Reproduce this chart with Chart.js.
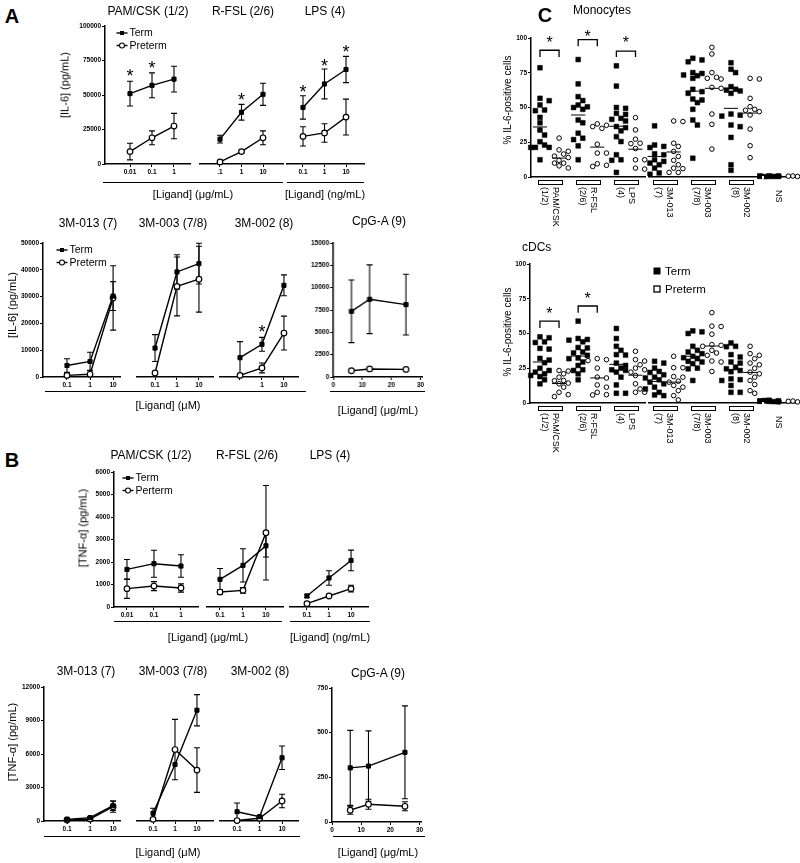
<!DOCTYPE html>
<html><head><meta charset="utf-8">
<script src="https://cdn.jsdelivr.net/npm/chart.js@4.4.0/dist/chart.umd.min.js"></script>
<style>
html,body{margin:0;padding:0;background:#fff}
body{width:800px;height:863px;position:relative;overflow:hidden;font-family:"Liberation Sans",Arial,sans-serif;color:#000}
.t{position:absolute;white-space:nowrap;line-height:1}
canvas{position:absolute}
.ul{position:absolute;height:0;border-top:1.3px solid #000}
</style></head><body>
<script>
const F = '"Liberation Sans", Arial, sans-serif';

// ================= Panel A : IL-6 (pg/mL) =================
const A_pam_conc = [0.01, 0.1, 1];
const A_pam_term = [51000, 57000, 61500];
const A_pam_termErr = [9000, 9000, 9300];
const A_pam_pre = [9000, 19000, 27500];
const A_pam_preErr = [6000, 5000, 9200];

const A_rfsl_conc = [0.1, 1, 10];
const A_rfsl_term = [18000, 37500, 50500];
const A_rfsl_termErr = [2800, 5700, 8000];
const A_rfsl_pre = [1500, 9000, 19000];
const A_rfsl_preErr = [500, 1000, 5000];

const A_lps_conc = [0.1, 1, 10];
const A_lps_term = [41000, 58000, 68500];
const A_lps_termErr = [8500, 10800, 9500];
const A_lps_pre = [20000, 22500, 34000];
const A_lps_preErr = [7000, 6700, 13000];

const A_m013_conc = [0.1, 1, 10];
const A_m013_term = [4300, 5800, 30200];
const A_m013_termErr = [2500, 3450, 5400];
const A_m013_pre = [600, 1000, 29500];
const A_m013_preErr = [1000, 1500, 12000];

const A_m003_conc = [0.1, 1, 10];
const A_m003_term = [10800, 39200, 42300];
const A_m003_termErr = [5000, 6400, 7600];
const A_m003_pre = [1500, 33800, 36500];
const A_m003_preErr = [0, 11000, 12300];

const A_m002_conc = [0.1, 1, 10];
const A_m002_term = [7200, 12200, 34200];
const A_m002_termErr = [6000, 2600, 3900];
const A_m002_pre = [600, 3400, 16400];
const A_m002_preErr = [500, 1850, 6300];

const A_cpg_conc = [6.25, 12.5, 25];
const A_cpg_term = [7350, 8700, 8100];
const A_cpg_termErr = [3500, 3850, 3400];
const A_cpg_pre = [700, 900, 850];
const A_cpg_preErr = [100, 120, 100];

// ================= Panel B : TNF-alpha (pg/mL) =================
const B_pam_conc = [0.01, 0.1, 1];
const B_pam_term = [1670, 1925, 1820];
const B_pam_termErr = [440, 600, 500];
const B_pam_pre = [815, 930, 845];
const B_pam_preErr = [430, 200, 185];

const B_rfsl_conc = [0.1, 1, 10];
const B_rfsl_term = [1230, 1850, 2720];
const B_rfsl_termErr = [480, 740, 500];
const B_rfsl_pre = [665, 740, 3300];
const B_rfsl_preErr = [100, 130, 2100];

const B_lps_conc = [0.1, 1, 10];
const B_lps_term = [490, 1290, 2070];
const B_lps_termErr = [80, 320, 460];
const B_lps_pre = [150, 490, 815];
const B_lps_preErr = [50, 30, 150];

const B_m013_conc = [0.1, 1, 10];
const B_m013_term = [150, 300, 1370];
const B_m013_termErr = [80, 100, 420];
const B_m013_pre = [90, 180, 1280];
const B_m013_preErr = [80, 100, 500];

const B_m003_conc = [0.1, 1, 10];
const B_m003_term = [690, 5060, 9920];
const B_m003_termErr = [450, 0, 1400];
const B_m003_pre = [150, 6400, 4560];
const B_m003_preErr = [0, 2700, 2000];

const B_m002_conc = [0.1, 1, 10];
const B_m002_term = [830, 390, 5660];
const B_m002_termErr = [780, 100, 1050];
const B_m002_pre = [40, 240, 1790];
const B_m002_preErr = [0, 100, 600];

const B_cpg_conc = [6.25, 12.5, 25];
const B_cpg_term = [303, 313, 390];
const B_cpg_termErr = [210, 197, 260];
const B_cpg_pre = [66, 99, 88];
const B_cpg_preErr = [23, 28, 25];

// ================= Panel C : % IL-6-positive cells =================
const C_groups = [['PAM/CSK', '(1/2)'], ['R-FSL', '(2/6)'], ['LPS', '(4)'], ['3M-013', '(7)'], ['3M-003', '(7/8)'], ['3M-002', '(8)'], ['NS']];
const C_axisBreaks = [5.6, 11.68];

const mono_term = [
  [78.6, 56.6, 54.9, 51.8, 48.2, 47.7, 42.9, 39, 33.8, 30.2, 25.4, 23, 21.3, 21.3, 21.3, 12.4],
  [84.5, 67, 57.8, 55, 51.8, 50.5, 50, 48.7, 41, 39, 31.5, 27.9, 26.9, 22.4, 12.4],
  [80, 65.4, 50, 49.4, 45.8, 45, 42.2, 41.5, 40.3, 36.3, 35.5, 33.2, 29, 25.5, 16, 12.4, 12, 3.3],
  [36.8, 23, 22, 21.2, 16.7, 16, 12.4, 11.2, 10, 8.8, 6.4, 2.9, 2],
  [85.4, 84.2, 82.9, 75.1, 74.5, 73.4, 72.9, 71, 63.1, 61.4, 60.2, 56.1, 55.4, 53.5, 48.7, 41, 37.4, 13.5],
  [82.2, 77.5, 75.1, 65, 63.1, 62.5, 61.9, 60.2, 45.3, 44.5, 43.8, 37.4, 36.2, 28.5, 8.8, 4.8],
  [0.8, 0.6, 0.5, 0.4, 0.3, 0.5, 0.7, 0.4]
];
const mono_pre = [
  [28, 19.5, 18.5, 16.5, 15, 14, 12, 10, 10, 8, 6.5],
  [38.2, 37.2, 36.3, 35, 23.6, 17.2, 17.2, 9.5, 8.4, 7.6],
  [42.7, 33.9, 27.2, 24.3, 24, 20.5, 12.4, 12.4, 6.4, 5.7],
  [40.3, 39.9, 24.3, 22, 18.4, 14.8, 12, 8.8, 6.4, 6, 3.3, 3.3],
  [93.3, 88.5, 75.1, 71.7, 71, 70.5, 64.5, 63.8, 45.3, 37.9, 20.1],
  [71, 70.5, 56.6, 50.6, 48.7, 48, 47, 44.6, 34.5, 22.5, 13.9],
  [0.6, 0.4, 0.5, 0.7]
];
const mono_termMean = [36, 44.6, 36.5, 14.8, 61.8, 49.4, null];
const mono_preMean = [13.6, 21.5, 20, 18, 63.8, 46, null];

const cdc_term = [
  [47.6, 46.9, 44, 43.5, 39.3, 38.8, 32.1, 30.9, 29, 25, 23.4, 22.2, 21, 19.8, 19, 16.7, 13.8],
  [58.9, 46.4, 45.7, 45.2, 44, 39.9, 39.6, 36.7, 36, 34.3, 32.4, 31.9, 29.5, 27, 23.9, 23.4, 21, 16.7],
  [53.6, 46.4, 40.8, 37.9, 34.8, 34.5, 28.7, 27, 25.1, 23.9, 23.5, 22.2, 18.6, 13, 7, 7],
  [30, 28.7, 25.1, 22.7, 22, 20.3, 18.6, 18, 16.7, 15, 13.8, 11.4, 10.1, 7.7, 5.8, 5.3],
  [51.9, 51.2, 50, 40.8, 37.9, 36.7, 35.5, 33.6, 32.6, 31.9, 30, 29.5, 28.3, 25.1, 24.6, 16.2],
  [43.2, 40.8, 40.5, 34.8, 33.1, 29.5, 28.7, 25.8, 24.6, 23.4, 22.5, 17.4, 16.8, 16.2, 12.6, 7.7, 7.7],
  [2, 1.6, 1.3, 1, 1.8, 1.2, 0.9, 1.5]
];
const cdc_pre = [
  [23.4, 23, 21, 18.6, 16.2, 16, 14.3, 13.8, 11.4, 7.7, 6, 4.6],
  [31.9, 31.2, 30.5, 25.1, 18.6, 18, 13, 11.4, 7.7, 6, 5.8],
  [37.2, 31.2, 30.2, 27.5, 25.1, 23.9, 22.2, 19.8, 13.8, 10.1, 7.7, 7.7],
  [33.6, 25.4, 25.4, 19, 18.6, 15.7, 15, 12.6, 11.4, 8.9, 5.3, 2.2],
  [65, 55.3, 55, 49.5, 42, 41.5, 40.8, 37.9, 36, 34.3, 30.2, 29.5, 22.7],
  [40.8, 35.5, 34.3, 31.9, 28.7, 27.5, 25, 22.2, 21, 18.6, 16.2, 13.3, 8.9, 7],
  [1.2, 0.8, 1, 1.4]
];
const cdc_termMean = [29.5, 33.8, 27.8, 15.5, 33.6, 23.9, null];
const cdc_preMean = [14, 18, 20, 15, 41, 22, null];

// significance brackets (group, bracket top, leg end, asterisk) in % units
const mono_sig = [{g: 0, top: 91.2, leg: 86.4, star: 99.6}, {g: 1, top: 98.9, leg: 94, star: 104.3}, {g: 2, top: 90.5, leg: 86.4, star: 99.6}];
const cdc_sig = [{g: 0, top: 58.9, leg: 54, star: 67.6}, {g: 1, top: 69.8, leg: 65, star: 78.3}];

// ================= helpers =================
function txt(s, x, y, size, opt) {
  opt = opt || {};
  const d = document.createElement('div');
  d.className = 't'; d.textContent = s;
  d.style.fontSize = size + 'px';
  if (opt.bold) d.style.fontWeight = 'bold';
  d.style.left = x + 'px'; d.style.top = y + 'px';
  let tr = (opt.anchor === 'l') ? 'translate(0,-50%)' : 'translate(-50%,-50%)';
  if (opt.rot) tr += ' rotate(' + opt.rot + 'deg)';
  d.style.transform = tr;
  document.body.appendChild(d);
}
function uline(y, x1, x2) {
  const d = document.createElement('div');
  d.className = 'ul';
  d.style.left = x1 + 'px'; d.style.top = y + 'px'; d.style.width = (x2 - x1) + 'px';
  document.body.appendChild(d);
}
function mkCanvas(l, t, w, h) {
  const c = document.createElement('canvas');
  c.width = w; c.height = h;
  c.style.left = l + 'px'; c.style.top = t + 'px';
  c.style.width = w + 'px'; c.style.height = h + 'px';
  document.body.appendChild(c);
  return c;
}
const tickFont = {family: F, size: 6.5, weight: 'bold'};
function axisLook() {
  return {
    grid: {display: true, drawOnChartArea: false, drawTicks: true, tickLength: 3, color: '#000', lineWidth: 1},
    border: {display: true, color: '#000', width: 1.5}
  };
}
const TERM_STYLE = {pointStyle: 'rect', pointRadius: 2.9, pointBackgroundColor: '#000', pointBorderColor: '#000', pointBorderWidth: 1};
const PRE_STYLE = {pointStyle: 'circle', pointRadius: 2.8, pointBackgroundColor: '#fff', pointBorderColor: '#000', pointBorderWidth: 1.2};

function errBarPlugin() {
  return {id: 'errbars', beforeDatasetsDraw(chart) {
    const ctx = chart.ctx, xs = chart.scales.x, ys = chart.scales.y;
    ctx.save(); ctx.strokeStyle = '#000'; ctx.lineWidth = 1.1;
    chart.data.datasets.forEach(ds => {
      if (!ds.err) return;
      ds.data.forEach((p, i) => {
        const e = ds.err[i]; if (!e) return;
        const px = xs.getPixelForValue(p.x);
        const top = ys.getPixelForValue(p.y + e);
        const lowV = Math.max(p.y - e, ys.min);
        const bot = ys.getPixelForValue(lowV);
        ctx.beginPath();
        ctx.moveTo(px, top); ctx.lineTo(px, bot);
        ctx.moveTo(px - 3, top); ctx.lineTo(px + 3, top);
        if (p.y - e > ys.min) { ctx.moveTo(px - 3, bot); ctx.lineTo(px + 3, bot); }
        ctx.stroke();
      });
    });
    ctx.restore();
  }};
}
function starPlugin(stars) {
  return {id: 'stars', afterDatasetsDraw(chart) {
    const ctx = chart.ctx, xs = chart.scales.x, ys = chart.scales.y, size = 18;
    ctx.save(); ctx.fillStyle = '#000'; ctx.font = size + 'px ' + F;
    ctx.textAlign = 'center'; ctx.textBaseline = 'alphabetic';
    stars.forEach(s => ctx.fillText('*', xs.getPixelForValue(s.x), ys.getPixelForValue(s.y) + size * 0.6));
    ctx.restore();
  }};
}
function legendPlugin(pos) {
  return {id: 'mlegend', afterDraw(chart) {
    if (!pos) return;
    const ctx = chart.ctx;
    ctx.save(); ctx.font = '10.5px ' + F; ctx.textBaseline = 'middle';
    chart.data.datasets.forEach((ds, i) => {
      const x = pos[0], y = pos[1] + i * 12.5;
      ctx.strokeStyle = '#000'; ctx.fillStyle = '#000'; ctx.lineWidth = 1.4;
      ctx.beginPath(); ctx.moveTo(x, y); ctx.lineTo(x + 11, y); ctx.stroke();
      if (ds.pointStyle === 'rect') { ctx.fillRect(x + 3.5, y - 2, 4, 4); }
      else { ctx.beginPath(); ctx.arc(x + 5.5, y, 2.5, 0, 2 * Math.PI); ctx.fillStyle = '#fff'; ctx.fill(); ctx.lineWidth = 1.1; ctx.stroke(); ctx.fillStyle = '#000'; }
      ctx.fillText(ds.label, x + 13, y + 0.5);
    });
    ctx.restore();
  }};
}

function linePanel(o) {
  const [l, t, r, b] = o.plot;
  const YW = o.yTicks ? 36 : 0, PL = o.yTicks ? 2 : 12, PR = 16, PT = 16, XH = 13, PB = 2;
  const cl = l - PL - YW, ct = t - PT, cw = r - l + PL + YW + PR, ch = b - t + PT + XH + PB;
  const cv = mkCanvas(cl, ct, cw, ch);
  const datasets = o.series.map(s => Object.assign({
    label: s.label, data: s.x.map((x, i) => ({x: x, y: s.y[i]})), err: s.err,
    showLine: true, borderColor: '#000', borderWidth: 1.4, fill: false, tension: 0, clip: false
  }, s.kind === 'term' ? TERM_STYLE : PRE_STYLE));
  const xAxis = Object.assign({
    type: o.xType, min: o.xMin, max: o.xMax, position: 'bottom', bounds: 'data',
    afterBuildTicks: sc => { sc.ticks = o.xTicks.map(v => ({value: v})); },
    afterFit: sc => { sc.height = XH; },
    ticks: {font: tickFont, color: '#000', padding: 1, maxRotation: 0, autoSkip: false, callback: (v, i) => o.xLabels[i]}
  }, axisLook());
  const yAxis = o.yTicks ? Object.assign({
    type: 'linear', min: o.yMin, max: o.yMax, position: 'left', bounds: 'data',
    afterBuildTicks: sc => { sc.ticks = o.yTicks.map(v => ({value: v})); },
    afterFit: sc => { sc.width = YW; },
    ticks: {font: tickFont, color: '#000', padding: 1, autoSkip: false, callback: (v, i) => String(o.yTicks[i])}
  }, axisLook()) : {display: false, min: o.yMin, max: o.yMax};
  new Chart(cv, {
    type: 'scatter',
    data: {datasets: datasets},
    options: {
      responsive: false, animation: false, devicePixelRatio: 1, events: [],
      layout: {padding: {left: PL, right: PR, top: PT, bottom: PB}},
      plugins: {legend: {display: false}, tooltip: {enabled: false}},
      scales: {x: xAxis, y: yAxis}
    },
    plugins: [errBarPlugin(), starPlugin(o.stars || []), legendPlugin(o.legend ? [o.legend[0] - cl, o.legend[1] - ct] : null)]
  });
}

function swarm(vals, yppu) {
  const D = 5.2, step = 4.6, placed = [];
  const cands = [0, step, -step, 2 * step, -2 * step];
  return vals.map(v => {
    let best = 0, bestCost = Infinity;
    for (const c of cands) {
      let cost = 0;
      for (const p of placed) {
        const d = Math.hypot(c - p.dx, (v - p.v) * yppu);
        if (d < D) cost += D - d;
      }
      if (cost < 1e-6) { best = c; bestCost = 0; break; }
      if (cost < bestCost) { bestCost = cost; best = c; }
    }
    placed.push({dx: best, v: v});
    return best;
  });
}

function dotPanel(o) {
  const [l, t, r, b] = o.plot;
  const YW = 24, PL = 2, PR = 6, PT = 16, XH = 1, PB = 62;
  const cl = l - PL - YW, ct = t - PT, cw = r - l + PL + YW + PR, ch = b - t + PT + XH + PB;
  const cv = mkCanvas(cl, ct, cw, ch);
  const xppu = (r - l) / (o.xMax - o.xMin), yppu = (b - t) / 100;
  const termPts = [], prePts = [];
  o.term.forEach((vals, g) => { const off = swarm(vals, yppu); vals.forEach((v, i) => termPts.push({x: 2 * g + off[i] / xppu, y: v})); });
  o.pre.forEach((vals, g) => { const off = swarm(vals, yppu); vals.forEach((v, i) => prePts.push({x: 2 * g + 1 + off[i] / xppu, y: v})); });
  const legendPos = o.legend ? [o.legend[0] - cl, o.legend[1] - ct] : null;
  const axisGaps = {id: 'gaps', afterDraw(chart) {
    const ctx = chart.ctx, xs = chart.scales.x, ys = chart.scales.y;
    const y0 = ys.getPixelForValue(0);
    C_axisBreaks.forEach(k => { ctx.clearRect(xs.getPixelForValue(k) - 1.2, y0 - 1.5, 2.4, 3); });
  }};
  const decor = {id: 'decor', afterDatasetsDraw(chart) {
    const ctx = chart.ctx, xs = chart.scales.x, ys = chart.scales.y;
    ctx.save(); ctx.strokeStyle = '#000'; ctx.fillStyle = '#000';
    ctx.lineWidth = 1;
    const drawMean = (m, k) => {
      if (m == null) return;
      const y = ys.getPixelForValue(m);
      ctx.beginPath(); ctx.moveTo(xs.getPixelForValue(k - 0.37), y); ctx.lineTo(xs.getPixelForValue(k + 0.37), y); ctx.stroke();
    };
    o.termMean.forEach((m, g) => drawMean(m, 2 * g));
    o.preMean.forEach((m, g) => drawMean(m, 2 * g + 1));
    ctx.lineWidth = 1.3;
    o.sig.forEach(s => {
      const x1 = xs.getPixelForValue(2 * s.g), x2 = xs.getPixelForValue(2 * s.g + 1);
      const yt = ys.getPixelForValue(s.top), yl = ys.getPixelForValue(s.leg);
      ctx.beginPath(); ctx.moveTo(x1, yl); ctx.lineTo(x1, yt); ctx.lineTo(x2, yt); ctx.lineTo(x2, yl); ctx.stroke();
      ctx.font = '16px ' + F; ctx.textAlign = 'center'; ctx.textBaseline = 'alphabetic';
      ctx.fillText('*', (x1 + x2) / 2, ys.getPixelForValue(s.star) + 16 * 0.6);
    });
    const y0 = ys.getPixelForValue(0);
    C_groups.forEach((lines, g) => {
      const xt = xs.getPixelForValue(2 * g), xp = xs.getPixelForValue(2 * g + 1), xc = (xt + xp) / 2;
      if (lines.length > 1) {
        const xa = xs.getPixelForValue(2 * g - 0.1), xb = xs.getPixelForValue(2 * g + 1.15);
        ctx.lineWidth = 1; ctx.strokeRect(Math.round(xa) + 0.5, Math.round(y0 + 2.5) + 0.5, Math.round(xb - xa), 4);
      }
      ctx.font = '9px ' + F; ctx.textAlign = 'left'; ctx.textBaseline = 'middle';
      lines.forEach((s, li) => {
        const dx = lines.length === 1 ? 0 : (li === 0 ? 5.5 : -5.5);
        ctx.save(); ctx.translate(xc + dx, y0 + (lines.length === 1 ? 13 : 10)); ctx.rotate(Math.PI / 2); ctx.fillText(s, 0, 0); ctx.restore();
      });
    });
    if (legendPos) {
      ctx.font = '11.5px ' + F; ctx.textAlign = 'left'; ctx.textBaseline = 'middle';
      ctx.fillRect(legendPos[0] - 3.5, legendPos[1] - 3.5, 7, 7);
      ctx.fillText('Term', legendPos[0] + 8, legendPos[1] + 0.5);
      ctx.lineWidth = 1.3; ctx.strokeRect(legendPos[0] - 3, legendPos[1] + 18 - 3, 6, 6);
      ctx.fillText('Preterm', legendPos[0] + 8, legendPos[1] + 18.5);
    }
    ctx.restore();
  }};
  new Chart(cv, {
    type: 'scatter',
    data: {datasets: [
      Object.assign({label: 'Term', data: termPts, clip: false}, {pointStyle: 'rect', pointRadius: 3.4, pointBackgroundColor: '#000', pointBorderColor: '#000', pointBorderWidth: 0.5}),
      Object.assign({label: 'Preterm', data: prePts, clip: false}, {pointStyle: 'circle', pointRadius: 2.3, pointBackgroundColor: '#fff', pointBorderColor: '#000', pointBorderWidth: 1})
    ]},
    options: {
      responsive: false, animation: false, devicePixelRatio: 1, events: [],
      layout: {padding: {left: PL, right: PR, top: PT, bottom: PB}},
      plugins: {legend: {display: false}, tooltip: {enabled: false}},
      scales: {
        x: {type: 'linear', min: o.xMin, max: o.xMax, position: 'bottom', bounds: 'data',
            ticks: {display: false}, grid: {display: false, drawTicks: false},
            border: {display: true, color: '#000', width: 1.5},
            afterFit: sc => { sc.height = XH; }},
        y: Object.assign({type: 'linear', min: 0, max: 100, position: 'left', bounds: 'data',
            afterBuildTicks: sc => { sc.ticks = [0, 25, 50, 75, 100].map(v => ({value: v})); },
            afterFit: sc => { sc.width = YW; },
            ticks: {font: tickFont, color: '#000', padding: 1, callback: v => String(v)}}, axisLook())
      }
    },
    plugins: [axisGaps, decor]
  });
}

// ================= build: Panel A =================
const yA1 = [0, 25000, 50000, 75000, 100000];
const yA2 = [0, 10000, 20000, 30000, 40000, 50000];
const yA3 = [0, 2500, 5000, 7500, 10000, 12500, 15000];
const yB1 = [0, 1000, 2000, 3000, 4000, 5000, 6000];
const yB2 = [0, 3000, 6000, 9000, 12000];
const yB3 = [0, 250, 500, 750];

function ser(x, term, termErr, pre, preErr, preLabel) {
  return [{label: 'Term', kind: 'term', x: x, y: term, err: termErr},
          {label: preLabel || 'Preterm', kind: 'pre', x: x, y: pre, err: preErr}];
}

linePanel({plot: [105, 26, 190, 164], xType: 'logarithmic', xMin: 0.00073, xMax: 5.34, xTicks: [0.01, 0.1, 1], xLabels: ['0.01', '0.1', '1'],
  yMin: 0, yMax: 100000, yTicks: yA1, series: ser(A_pam_conc, A_pam_term, A_pam_termErr, A_pam_pre, A_pam_preErr),
  legend: [116.5, 33], stars: [{x: 0.01, y: 67400}, {x: 0.1, y: 73000}]});
linePanel({plot: [200, 26, 283, 164], xType: 'logarithmic', xMin: 0.01175, xMax: 85.1, xTicks: [0.1, 1, 10], xLabels: ['.1', '1', '10'],
  yMin: 0, yMax: 100000, series: ser(A_rfsl_conc, A_rfsl_term, A_rfsl_termErr, A_rfsl_pre, A_rfsl_preErr), stars: [{x: 1, y: 50000}]});
linePanel({plot: [287, 26, 364, 164], xType: 'logarithmic', xMin: 0.01803, xMax: 68.7, xTicks: [0.1, 1, 10], xLabels: ['0.1', '1', '10'],
  yMin: 0, yMax: 100000, series: ser(A_lps_conc, A_lps_term, A_lps_termErr, A_lps_pre, A_lps_preErr),
  stars: [{x: 0.1, y: 55600}, {x: 1, y: 74600}, {x: 10, y: 84500}]});

linePanel({plot: [43, 243, 120, 377], xType: 'logarithmic', xMin: 0.00912, xMax: 19.95, xTicks: [0.1, 1, 10], xLabels: ['0.1', '1', '10'],
  yMin: 0, yMax: 50000, yTicks: yA2, series: ser(A_m013_conc, A_m013_term, A_m013_termErr, A_m013_pre, A_m013_preErr), legend: [56.5, 250]});
linePanel({plot: [137, 243, 213, 377], xType: 'logarithmic', xMin: 0.01514, xMax: 43.6, xTicks: [0.1, 1, 10], xLabels: ['0.1', '1', '10'],
  yMin: 0, yMax: 50000, series: ser(A_m003_conc, A_m003_term, A_m003_termErr, A_m003_pre, A_m003_preErr)});
linePanel({plot: [220, 243, 298, 377], xType: 'logarithmic', xMin: 0.0123, xMax: 43.6, xTicks: [0.1, 1, 10], xLabels: ['', '1', '10'],
  yMin: 0, yMax: 50000, series: ser(A_m002_conc, A_m002_term, A_m002_termErr, A_m002_pre, A_m002_preErr), stars: [{x: 1, y: 18700}]});
linePanel({plot: [333, 243, 421.5, 377], xType: 'linear', xMin: 0, xMax: 30.5, xTicks: [0, 10, 20, 30], xLabels: ['0', '10', '20', '30'],
  yMin: 0, yMax: 15000, yTicks: yA3, series: ser(A_cpg_conc, A_cpg_term, A_cpg_termErr, A_cpg_pre, A_cpg_preErr)});

// ================= build: Panel B =================
linePanel({plot: [114, 472, 198, 607], xType: 'logarithmic', xMin: 0.00331, xMax: 4.27, xTicks: [0.01, 0.1, 1], xLabels: ['0.01', '0.1', '1'],
  yMin: 0, yMax: 6000, yTicks: yB1, series: ser(B_pam_conc, B_pam_term, B_pam_termErr, B_pam_pre, B_pam_preErr, 'Perterm'), legend: [122.5, 478]});
linePanel({plot: [207, 472, 283, 607], xType: 'logarithmic', xMin: 0.0272, xMax: 55, xTicks: [0.1, 1, 10], xLabels: ['0.1', '1', '10'],
  yMin: 0, yMax: 6000, series: ser(B_rfsl_conc, B_rfsl_term, B_rfsl_termErr, B_rfsl_pre, B_rfsl_preErr)});
linePanel({plot: [290, 472, 368, 607], xType: 'logarithmic', xMin: 0.017, xMax: 58.9, xTicks: [0.1, 1, 10], xLabels: ['0.1', '1', '10'],
  yMin: 0, yMax: 6000, series: ser(B_lps_conc, B_lps_term, B_lps_termErr, B_lps_pre, B_lps_preErr)});

linePanel({plot: [44, 687, 120, 821], xType: 'logarithmic', xMin: 0.01, xMax: 19.95, xTicks: [0.1, 1, 10], xLabels: ['0.1', '1', '10'],
  yMin: 0, yMax: 12000, yTicks: yB2, series: ser(B_m013_conc, B_m013_term, B_m013_termErr, B_m013_pre, B_m013_preErr)});
linePanel({plot: [137, 687, 213, 821], xType: 'logarithmic', xMin: 0.0186, xMax: 53.7, xTicks: [0.1, 1, 10], xLabels: ['0.1', '1', '10'],
  yMin: 0, yMax: 12000, series: ser(B_m003_conc, B_m003_term, B_m003_termErr, B_m003_pre, B_m003_preErr)});
linePanel({plot: [220, 687, 298, 821], xType: 'logarithmic', xMin: 0.0174, xMax: 51.3, xTicks: [0.1, 1, 10], xLabels: ['0.1', '1', '10'],
  yMin: 0, yMax: 12000, series: ser(B_m002_conc, B_m002_term, B_m002_termErr, B_m002_pre, B_m002_preErr)});
linePanel({plot: [332, 688, 421, 822], xType: 'linear', xMin: 0, xMax: 30.5, xTicks: [0, 10, 20, 30], xLabels: ['0', '10', '20', '30'],
  yMin: 0, yMax: 750, yTicks: yB3, series: ser(B_cpg_conc, B_cpg_term, B_cpg_termErr, B_cpg_pre, B_cpg_preErr)});

// ================= build: Panel C =================
dotPanel({plot: [531, 38, 795, 177.3], xMin: -0.47, xMax: 13.35, term: mono_term, pre: mono_pre,
  termMean: mono_termMean, preMean: mono_preMean, sig: mono_sig});
dotPanel({plot: [530, 264, 795, 403.3], xMin: -0.52, xMax: 13.35, term: cdc_term, pre: cdc_pre,
  termMean: cdc_termMean, preMean: cdc_preMean, sig: cdc_sig, legend: [657, 271]});

// ================= text =================
txt('A', 12, 16, 20, {bold: true});
txt('B', 12, 460, 20, {bold: true});
txt('C', 545, 15, 20, {bold: true});

txt('PAM/CSK (1/2)', 148, 11, 12);
txt('R-FSL (2/6)', 243, 11, 12);
txt('LPS (4)', 325, 11, 12);
txt('3M-013 (7)', 88, 223, 12);
txt('3M-003 (7/8)', 173, 223, 12);
txt('3M-002 (8)', 264, 223, 12);
txt('CpG-A (9)', 379, 221, 12);

txt('PAM/CSK (1/2)', 151, 455, 12);
txt('R-FSL (2/6)', 247, 455, 12);
txt('LPS (4)', 330, 455, 12);
txt('3M-013 (7)', 86, 671, 12);
txt('3M-003 (7/8)', 173, 671, 12);
txt('3M-002 (8)', 260, 671, 12);
txt('CpG-A (9)', 378, 673, 12);

uline(182, 103, 283); uline(182, 287, 364);
txt('[Ligand] (\u03bcg/mL)', 193, 194, 11);
txt('[Ligand] (ng/mL)', 325, 194, 11);
uline(391, 45, 306); uline(391, 330, 425);
txt('[Ligand] (\u03bcM)', 168, 405, 11);
txt('[Ligand] (\u03bcg/mL)', 378, 410, 11);
uline(621, 114, 282); uline(621, 290, 370);
txt('[Ligand] (\u03bcg/mL)', 208, 637, 11);
txt('[Ligand] (ng/mL)', 330, 637, 11);
uline(836, 44, 300); uline(836, 333, 425);
txt('[Ligand] (\u03bcM)', 168, 852, 11);
txt('[Ligand] (\u03bcg/mL)', 378, 852, 11);

txt('[IL-6] (pg/mL)', 65, 85, 11, {rot: -90});
txt('[IL-6] (pg/mL)', 12, 305, 11, {rot: -90});
txt('[TNF-\u03b1] (pg/mL)', 83, 528, 11, {rot: -90});
txt('[TNF-\u03b1] (pg/mL)', 12, 742, 11, {rot: -90});

txt('Monocytes', 573, 10, 12, {anchor: 'l'});
txt('cDCs', 522, 247, 12, {anchor: 'l'});
txt('% IL-6-positive cells', 508, 100, 10, {rot: -90});
txt('% IL-6-positive cells', 508, 332, 10, {rot: -90});
</script>
</body></html>
